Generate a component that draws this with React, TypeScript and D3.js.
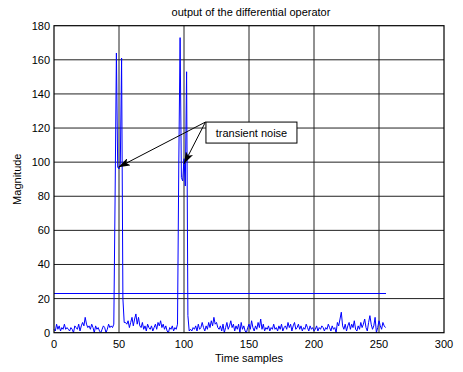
import React from "react";
import * as d3 from "d3";

const magnitude: number[] = [
  2,1,5,2,4,1,3,2,5,2,3,2,1,3,2,0,4,3,2,5,1,4,6,4,9,5,3,4,2,5,3,0,4,2,3,1,0,2,4,3,0,2,5,3,4,3,
  5,80,164,97,96,99,161,20,6,
  6,5,7,3,6,9,4,8,11,5,9,4,3,6,2,4,1,5,3,2,4,1,3,5,2,6,4,7,3,5,2,4,1,0,3,2,4,1,3,2,
  5,100,173,91,89,102,86,153,10,1,
  2,1,3,2,4,1,5,2,3,6,3,1,4,2,6,3,7,4,9,5,6,3,2,4,1,5,0,3,6,2,4,7,3,5,1,4,2,5,0,6,2,4,1,0,3,
  5,2,7,3,1,4,2,6,3,8,2,5,1,3,2,4,1,3,2,5,2,3,1,4,2,5,1,3,4,2,6,3,5,1,4,6,2,3,5,2,4,1,3,2,5,3,1,4,2,3,
  1,2,4,1,3,2,4,3,1,3,2,5,3,1,4,2,3,0,6,4,8,12,4,2,5,1,4,6,2,5,3,7,2,1,4,2,6,3,5,8,3,1,6,10,5,2,4,9,0,3,7,4,2,6,4,3
];
const threshold = 23;
const thresholdEnd = 255;
const xTicks = [0, 50, 100, 150, 200, 250, 300];
const yTicks = [0, 20, 40, 60, 80, 100, 120, 140, 160, 180];
const title = "output of the differential operator";
const xLabel = "Time samples";
const yLabel = "Magnitude";
const annotation = "transient noise";
const arrowTargets: [number, number][] = [[49.5, 97], [100, 99]];
const annotationAnchor: [number, number] = [116.5, 123.5];

export default function App() {
  const W = 463, H = 372;
  const L = 54, R = 444, T = 25.7, B = 332.7;
  const x = d3.scaleLinear().domain([0, 300]).range([L, R]);
  const y = d3.scaleLinear().domain([0, 180]).range([B, T]);
  const line = d3.line<number>().x((_, i) => x(i)).y((d) => y(d));
  const font = "'Liberation Sans', Arial, sans-serif";
  const [ax, ay] = [x(annotationAnchor[0]), y(annotationAnchor[1])];
  const ty = Math.round(y(threshold)) + 0.5;
  return (
    <svg width={W} height={H} style={{ position: "absolute", left: 0, top: 0, background: "#fff" }} fontFamily={font}>
      <defs>
        <marker id="ah" viewBox="0 0 12 8" refX="12" refY="4" markerWidth="12" markerHeight="8" markerUnits="userSpaceOnUse" orient="auto">
          <path d="M0,0 L12,4 L0,8 L3,4 Z" fill="#000" />
        </marker>
      </defs>
      <rect x={0} y={0} width={W} height={H} fill="#fff" />
      {xTicks.slice(1, -1).map((t) => (
        <line key={"gx" + t} x1={x(t)} x2={x(t)} y1={T} y2={B} stroke="#222" strokeWidth={1} />
      ))}
      {yTicks.slice(1, -1).map((t) => (
        <line key={"gy" + t} x1={L} x2={R} y1={y(t)} y2={y(t)} stroke="#222" strokeWidth={1} />
      ))}
      <line x1={x(0)} x2={x(thresholdEnd)} y1={ty} y2={ty} stroke="#0000ff" strokeWidth={1} shapeRendering="crispEdges" />
      <path d={line(magnitude) || ""} fill="none" stroke="#0000ff" strokeWidth={1} />
      <rect x={L} y={T} width={R - L} height={B - T} fill="none" stroke="#000" strokeWidth={1.2} />
      {xTicks.map((t) => (
        <text key={"xt" + t} x={x(t)} y={B + 15} fontSize={11} textAnchor="middle" fill="#000">{t}</text>
      ))}
      {yTicks.map((t) => (
        <text key={"yt" + t} x={L - 4} y={y(t) + 4} fontSize={11} textAnchor="end" fill="#000">{t}</text>
      ))}
      <text x={(L + R) / 2 + 2} y={16} fontSize={11} textAnchor="middle" fill="#000">{title}</text>
      <text x={(L + R) / 2} y={362} fontSize={11} textAnchor="middle" fill="#000">{xLabel}</text>
      <text transform={`translate(21,${(T + B) / 2}) rotate(-90)`} fontSize={11} textAnchor="middle" fill="#000">{yLabel}</text>
      <rect x={ax + 0.5} y={ay} width={91} height={21} fill="#fff" stroke="#000" strokeWidth={1} />
      <text x={ax + 46} y={ay + 14.5} fontSize={11} textAnchor="middle" fill="#000">{annotation}</text>
      {arrowTargets.map(([tx, tyy], i) => (
        <line key={"ar" + i} x1={ax} x2={x(tx)} y1={ay} y2={y(tyy)} stroke="#000" strokeWidth={1} markerEnd="url(#ah)" />
      ))}
    </svg>
  );
}
